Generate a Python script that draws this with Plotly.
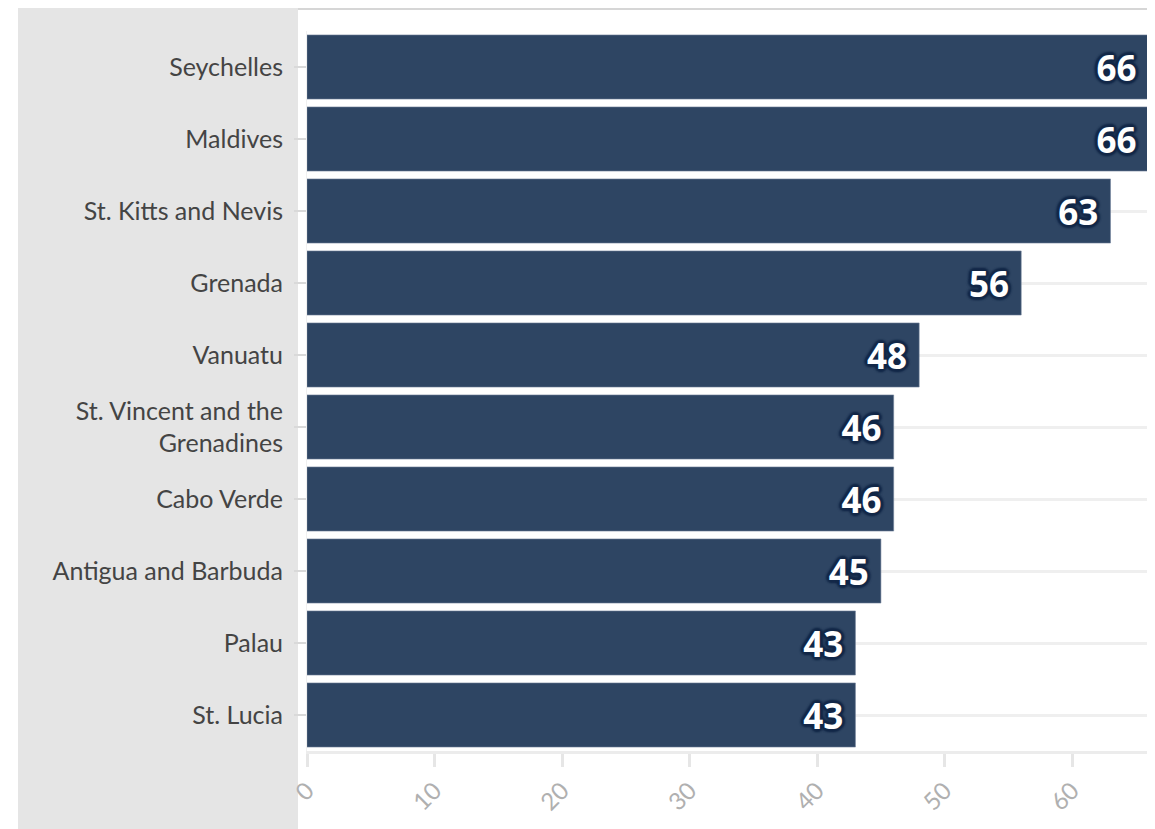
import plotly.graph_objects as go

countries = ["Seychelles", "Maldives", "St. Kitts and Nevis", "Grenada", "Vanuatu",
             "St. Vincent and the<br>Grenadines", "Cabo Verde", "Antigua and Barbuda",
             "Palau", "St. Lucia"]
values = [66, 66, 63, 56, 48, 46, 46, 45, 43, 43]
x_ticks = [0, 10, 20, 30, 40, 50, 60]

outline = "#132848"
shadow = ", ".join(f"{dx}px {dy}px 2px {outline}" for dx, dy in
                   [(-2, -2), (2, -2), (-2, 2), (2, 2), (0, 3), (0, -3), (3, 0), (-3, 0)])

fig = go.Figure(go.Bar(
    x=values, y=countries, orientation="h",
    marker=dict(color="#2e4563", line=dict(color="#6f8099", width=0.6)),
    text=[f"{v}\u00a0" for v in values],
    textposition="inside", insidetextanchor="end",
    textfont=dict(family="Open Sans", size=35, color="white", weight="bold", shadow=shadow),
    constraintext="none", cliponaxis=False,
    width=0.89,
))

# page body adds an 8px offset; coordinates below are figure coordinates
W, H = 1147, 821
L, R, T, B = 299, 5, 23, 78
pw, ph = W - L - R, H - T - B

def px(xp):
    return (xp - 8 - L) / pw

def py(yp):
    return (H - B - (yp - 8)) / ph

fig.update_layout(
    width=W, height=H,
    margin=dict(l=L, r=R, t=T, b=B),
    paper_bgcolor="white", plot_bgcolor="white",
    showlegend=False,
    font=dict(family="Lato", color="#444444"),
    xaxis=dict(range=[0, 66.1], tickvals=x_ticks, tickangle=-45,
               showgrid=False, zeroline=False,
               showline=True, linecolor="#ececec", linewidth=3,
               ticks="outside", ticklen=13, tickwidth=3, tickcolor="#e6e6e6",
               ticklabelstandoff=0,
               tickfont=dict(family="Lato", size=24, color="#b0b0b0")),
    yaxis=dict(categoryorder="array", categoryarray=countries, autorange="reversed",
               showgrid=True, gridcolor="#efefef", gridwidth=3,
               showline=True, linecolor="#f0f0f0", linewidth=1,
               ticks="outside", ticklen=12, tickwidth=2, tickcolor="#d9d9d9",
               ticklabelstandoff=6,
               tickfont=dict(family="Lato", size=25, color="#444444")),
    shapes=[
        dict(type="rect", xref="paper", yref="paper", layer="below",
             x0=px(18), x1=px(298), y0=py(840), y1=py(0),
             fillcolor="#e5e5e5", line=dict(width=0)),
        dict(type="line", xref="paper", yref="paper",
             x0=px(298), x1=px(1150), y0=py(9), y1=py(9),
             line=dict(color="#c8c8c8", width=1.5)),
    ],
)

fig.write_html("out.html")
